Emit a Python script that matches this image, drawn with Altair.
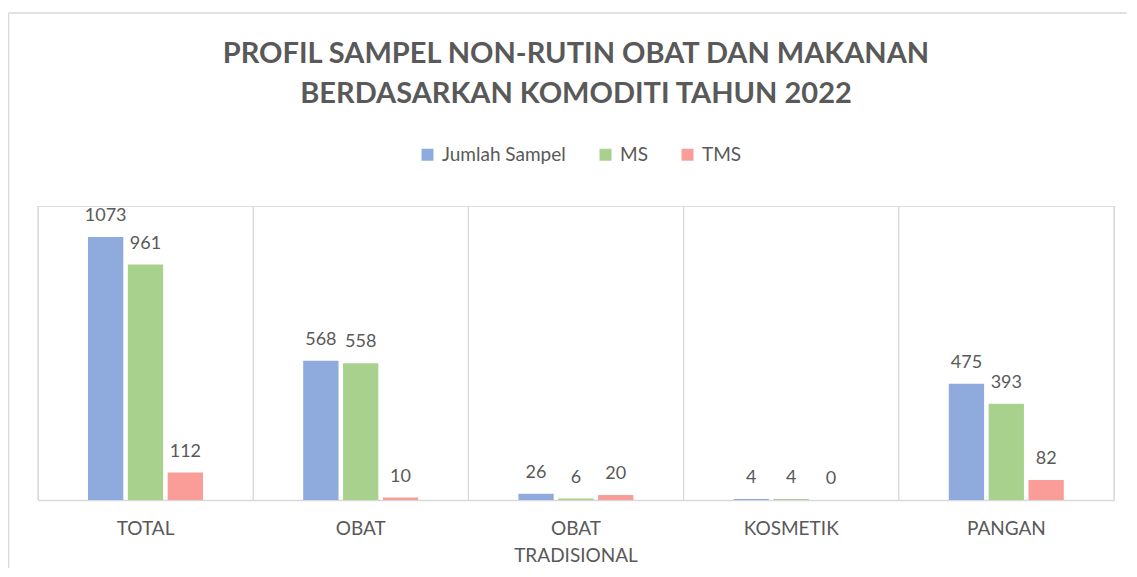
import altair as alt
import pandas as pd

categories = ["TOTAL", "OBAT", "OBAT TRADISIONAL", "KOSMETIK", "PANGAN"]
series = ["Jumlah Sampel", "MS", "TMS"]
jumlah_sampel = [1073, 568, 26, 4, 475]
ms = [961, 558, 6, 4, 393]
tms = [112, 10, 20, 0, 82]
colors = ["#8FAADC", "#A9D18E", "#FA9D98"]

rows = []
for i, c in enumerate(categories):
    for s, vals in zip(series, [jumlah_sampel, ms, tms]):
        rows.append({"Komoditi": c, "Kategori": s, "Nilai": vals[i]})
df = pd.DataFrame(rows)
df_cat = pd.DataFrame({"Komoditi": categories})
one = pd.DataFrame({"a": [0]})

W, H = 1076, 294
FONT = "Lato"
GRAY = "#595959"
LINE = "#D9D9D9"

x_scale = alt.Scale(domain=categories, paddingInner=0, paddingOuter=0)
xoff = alt.XOffset("Kategori:N", sort=series,
                   scale=alt.Scale(domain=series, range=[50, 165],
                                   paddingInner=0.114, paddingOuter=0))
y_enc = alt.Y("Nilai:Q", scale=alt.Scale(domain=[0, 1200], nice=False), axis=None)

bars = alt.Chart(df).mark_bar().encode(
    x=alt.X("Komoditi:N", sort=categories, scale=x_scale,
            axis=alt.Axis(title=None, labelAngle=0, labelAlign="center", ticks=False, grid=False,
                          domainColor=LINE, domainWidth=1.5,
                          labelFont=FONT, labelFontSize=19, labelColor=GRAY,
                          labelPadding=19, labelBaseline="top", labelLineHeight=27,
                          labelExpr="split(datum.label, ' ')")),
    xOffset=xoff,
    y=y_enc,
    color=alt.Color("Kategori:N", sort=series,
                    scale=alt.Scale(domain=series, range=colors),
                    legend=alt.Legend(orient="none", legendX=380, legendY=-61,
                                      direction="horizontal", title=None,
                                      symbolType="square", symbolSize=144,
                                      symbolStrokeWidth=0, labelFont=FONT,
                                      labelFontSize=19, labelColor=GRAY,
                                      columnPadding=30, labelOffset=5, padding=0)),
)

labels = alt.Chart(df).mark_text(font=FONT, fontSize=18, color=GRAY,
                                 baseline="alphabetic", dy=-16).encode(
    x=alt.X("Komoditi:N", sort=categories, scale=x_scale),
    xOffset=xoff,
    y=y_enc,
    text=alt.Text("Nilai:Q", format="d"),
)

grid = alt.Chart(df_cat).mark_rule(color=LINE, strokeWidth=1.3).encode(
    x=alt.X("Komoditi:N", sort=categories, scale=x_scale, bandPosition=0),
    y=alt.value(0), y2=alt.value(H),
)
grid_right = alt.Chart(one).mark_rule(color=LINE, strokeWidth=1.3).encode(
    x=alt.value(W), y=alt.value(0), y2=alt.value(H),
)
border_left = alt.Chart(one).mark_rule(color=LINE, strokeWidth=1.5).encode(
    x=alt.value(-29.5), y=alt.value(-193), y2=alt.value(H + 68),
)
border_top = alt.Chart(one).mark_rule(color=LINE, strokeWidth=1.5).encode(
    x=alt.value(-29.5), x2=alt.value(W + 13), y=alt.value(-193),
)

chart = alt.layer(border_left, border_top, grid, grid_right, bars, labels).properties(
    width=W, height=H,
    autosize=alt.AutoSizeParams(type="none"),
    padding={"left": 30, "top": 198, "right": 13, "bottom": 68},
    title=alt.TitleParams(
        ["PROFIL SAMPEL NON-RUTIN OBAT DAN MAKANAN", "BERDASARKAN KOMODITI TAHUN 2022"],
        font=FONT, fontSize=29, fontWeight="bold", color=GRAY,
        anchor="middle", frame="group", offset=-97, lineHeight=40),
).configure_view(stroke=None).configure(background="white")

chart.save("out.html", embed_options={"renderer": "svg", "actions": False})
